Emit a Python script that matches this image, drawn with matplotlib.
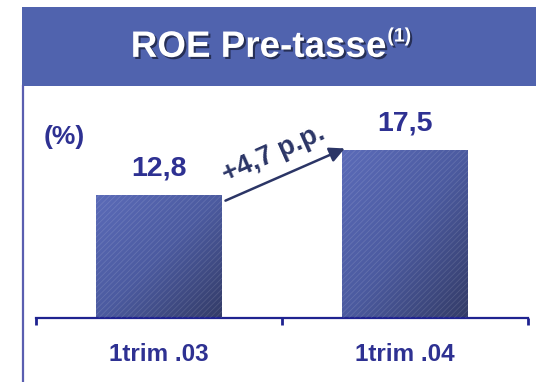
import numpy as np
import matplotlib
matplotlib.use("Agg")
import matplotlib.pyplot as plt
import matplotlib.patheffects as pe
from matplotlib.colors import LinearSegmentedColormap
from matplotlib.patches import Rectangle

plt.rcParams['font.family'] = ['Liberation Sans', 'DejaVu Sans']
plt.rcParams['hatch.linewidth'] = 0.6

categories = ['1trim .03', '1trim .04']
roe = [12.8, 17.5]
value_labels = ['12,8', '17,5']
delta_label = '+4,7 p.p.'
title = 'ROE Pre-tasse'
note = '(1)'
unit = '(%)'

TEXT = '#2E3192'
NAVY = '#2B3566'
HEADER = '#5063AE'

fig = plt.figure(figsize=(5.36, 3.82), dpi=100)

# header band with the title (drawn underneath everything else)
fig.patches.append(Rectangle((0.041, 0.775), 0.959, 0.207, transform=fig.transFigure,
                             facecolor=HEADER, edgecolor='none', zorder=-1))
shadow = [pe.SimplePatchShadow(offset=(1.5, -1.5), shadow_rgbFace='#1c2240', alpha=0.8),
          pe.Normal()]
t = fig.text(0.482, 0.876, title, color='white', fontsize=26.5, fontweight='bold',
             ha='center', va='center', path_effects=shadow)

# thin frame line on the left below the header
fig.add_artist(plt.Line2D([0.043, 0.043], [0.0, 0.775], transform=fig.transFigure,
                          color='#5A5EB0', lw=1.6))

ax = fig.add_axes([0.0672, 0.1675, 0.918, 0.607])
ax.annotate(note, xy=(1.0, 1.0), xycoords=t, xytext=(1, 1), textcoords='offset points',
            ha='left', va='top', color='white', fontsize=14, fontweight='bold',
            path_effects=shadow, annotation_clip=False)

x = np.arange(len(categories))
width = 0.51
cmap = LinearSegmentedColormap.from_list('bar', ['#5B6BB8', '#4C5BA0', '#343C68'])
grad = np.add.outer(np.linspace(0, 1, 100), np.linspace(0, 1, 100)) / 2

bars = ax.bar(x, roe, width=width, color='none', edgecolor='none', zorder=2)
for b in bars:
    x0, y0, w, h = b.get_x(), b.get_y(), b.get_width(), b.get_height()
    im = ax.imshow(grad, cmap=cmap, extent=(x0, x0 + w, y0, y0 + h), origin='upper',
                   aspect='auto', zorder=2, interpolation='bicubic')
    im.set_clip_path(b)
    ax.add_patch(Rectangle((x0, y0), w, h, facecolor='none', edgecolor=(1, 1, 1, 0.12),
                           hatch='//////', lw=0, zorder=3))
ax.set_xlim(-0.5, 1.5)
ax.set_ylim(0, 24.2)

for xi, v, lab in zip(x, roe, value_labels):
    ax.text(xi, v + 1.4, lab, ha='center', va='bottom', color=TEXT,
            fontsize=20.5, fontweight='bold')

ax.text(-0.47, 18.9, unit, ha='left', va='center', color=TEXT, fontsize=19, fontweight='bold')

# growth arrow between the two bars
x_start = x[0] + width / 2 + 0.015
x_end = x[1] - width / 2 + 0.01
ax.annotate('', xy=(x_end, roe[1] + 0.2), xytext=(x_start, roe[0] - 0.55),
            arrowprops=dict(arrowstyle='-|>,head_length=0.9,head_width=0.45',
                            color=NAVY, lw=1.8, shrinkA=0, shrinkB=0))
ax.text((x_start + x_end) / 2 - 0.045, (roe[0] + roe[1]) / 2 + 2.0, delta_label,
        rotation=24, rotation_mode='anchor', ha='center', va='center',
        color=NAVY, fontsize=19.5, fontweight='bold')

for s in ['top', 'right', 'left']:
    ax.spines[s].set_visible(False)
ax.spines['bottom'].set_color('#1F2390')
ax.spines['bottom'].set_linewidth(1.6)
ax.set_yticks([])
ax.set_xticks([-0.5, 0.5, 1.5])
ax.set_xticklabels([])
ax.tick_params(axis='x', direction='out', length=5, width=2, color='#1F2390')
for xi, c in zip(x, categories):
    ax.text(xi, -3.8, c, ha='center', va='center', color=TEXT, fontsize=17.5, fontweight='bold')

fig.savefig('out.png', dpi=100)
